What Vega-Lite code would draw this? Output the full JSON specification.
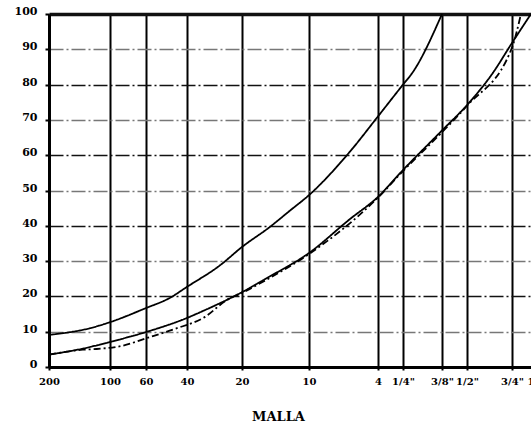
{
  "$schema": "https://vega.github.io/schema/vega-lite/v6.json",
  "width": 482,
  "height": 353,
  "autosize": {"type": "none"},
  "padding": {"left": 49, "top": 14, "right": 0, "bottom": 59},
  "background": "white",
  "config": {
    "view": {"stroke": null},
    "axis": {"labelFont": "DejaVu Serif", "labelFontWeight": "bold", "labelColor": "black", "titleFont": "DejaVu Serif", "titleColor": "black"}
  },
  "data": {
    "values": [
      {"serie": "A", "abertura": 0.075, "pasa": 9.1},
      {"serie": "A", "abertura": 0.1196, "pasa": 11},
      {"serie": "A", "abertura": 0.15, "pasa": 12.7},
      {"serie": "A", "abertura": 0.25, "pasa": 16.7},
      {"serie": "A", "abertura": 0.341, "pasa": 19.6},
      {"serie": "A", "abertura": 0.425, "pasa": 22.7},
      {"serie": "A", "abertura": 0.644, "pasa": 28.8},
      {"serie": "A", "abertura": 0.85, "pasa": 34},
      {"serie": "A", "abertura": 1.215, "pasa": 39.7},
      {"serie": "A", "abertura": 1.568, "pasa": 44.3},
      {"serie": "A", "abertura": 2.0, "pasa": 48.7},
      {"serie": "A", "abertura": 3.34, "pasa": 61},
      {"serie": "A", "abertura": 4.75, "pasa": 71},
      {"serie": "A", "abertura": 6.35, "pasa": 80},
      {"serie": "A", "abertura": 6.97, "pasa": 83.2},
      {"serie": "A", "abertura": 9.5, "pasa": 100},
      {"serie": "B", "abertura": 0.075, "pasa": 3.5},
      {"serie": "B", "abertura": 0.085, "pasa": 4},
      {"serie": "B", "abertura": 0.11, "pasa": 5.2},
      {"serie": "B", "abertura": 0.15, "pasa": 7.1},
      {"serie": "B", "abertura": 0.25, "pasa": 9.9},
      {"serie": "B", "abertura": 0.425, "pasa": 13.9},
      {"serie": "B", "abertura": 0.501, "pasa": 15.5},
      {"serie": "B", "abertura": 0.85, "pasa": 21.2},
      {"serie": "B", "abertura": 1.17, "pasa": 25.2},
      {"serie": "B", "abertura": 2.0, "pasa": 32.3},
      {"serie": "B", "abertura": 3.34, "pasa": 41.9},
      {"serie": "B", "abertura": 4.75, "pasa": 48.2},
      {"serie": "B", "abertura": 6.35, "pasa": 55.8},
      {"serie": "B", "abertura": 9.5, "pasa": 67},
      {"serie": "B", "abertura": 12.7, "pasa": 74.2},
      {"serie": "B", "abertura": 15.9, "pasa": 83},
      {"serie": "B", "abertura": 19.0, "pasa": 91.8},
      {"serie": "B", "abertura": 24.7, "pasa": 100},
      {"serie": "C", "abertura": 0.075, "pasa": 3.5},
      {"serie": "C", "abertura": 0.11, "pasa": 4.9},
      {"serie": "C", "abertura": 0.129, "pasa": 5.1},
      {"serie": "C", "abertura": 0.178, "pasa": 6},
      {"serie": "C", "abertura": 0.253, "pasa": 8.2},
      {"serie": "C", "abertura": 0.364, "pasa": 10.8},
      {"serie": "C", "abertura": 0.533, "pasa": 14.2},
      {"serie": "C", "abertura": 0.703, "pasa": 19},
      {"serie": "C", "abertura": 0.85, "pasa": 21},
      {"serie": "C", "abertura": 1.17, "pasa": 24.8},
      {"serie": "C", "abertura": 2.0, "pasa": 32},
      {"serie": "C", "abertura": 4.75, "pasa": 48},
      {"serie": "C", "abertura": 6.35, "pasa": 55.5},
      {"serie": "C", "abertura": 9.5, "pasa": 66.5},
      {"serie": "C", "abertura": 12.7, "pasa": 74},
      {"serie": "C", "abertura": 19.0, "pasa": 90.5},
      {"serie": "C", "abertura": 21.5, "pasa": 100}
    ]
  },
  "mark": {"type": "line", "color": "black", "strokeWidth": 1.8, "interpolate": "monotone", "clip": false},
  "encoding": {
    "x": {
      "field": "abertura",
      "type": "quantitative",
      "scale": {
        "type": "log",
        "nice": false,
        "zero": false,
        "domain": [0.075, 0.15, 0.25, 0.425, 0.85, 2.0, 4.75, 6.35, 9.5, 12.7, 19.0, 25.4],
        "range": [0, 61, 97, 138, 193, 260, 329, 354, 393, 418, 463, 484]
      },
      "axis": {
        "values": [0.075, 0.15, 0.25, 0.425, 0.85, 2.0, 4.75, 6.35, 9.5, 12.7, 19.0, 25.4],
        "labelExpr": "{'0.075':'200','0.15':'100','0.25':'60','0.425':'40','0.85':'20','2':'10','4.75':'4','6.35':'1/4\"','9.5':'3/8\"','12.7':'1/2\"','19':'3/4\"','25.4':'1\"'}[datum.value + '']",
        "labelFontSize": 10,
        "labelPadding": 6,
        "labelOverlap": false,
        "labelFlush": false,
        "tickSize": 3,
        "tickWidth": 2,
        "tickColor": "black",
        "domainColor": "black",
        "domainWidth": 3,
        "grid": true,
        "gridColor": "black",
        "gridWidth": 2,
        "gridOpacity": 1,
        "title": "MALLA",
        "titleFontSize": 13,
        "titleFontWeight": "bold",
        "titleX": 229,
        "titleY": 56,
        "titleAlign": "center",
        "titleBaseline": "bottom"
      }
    },
    "y": {
      "field": "pasa",
      "type": "quantitative",
      "scale": {"domain": [0, 100], "nice": false, "zero": true},
      "axis": {
        "values": [0, 10, 20, 30, 40, 50, 60, 70, 80, 90, 100],
        "labelFontSize": 11,
        "labelPadding": 8,
        "labelOffset": -2.5,
        "tickSize": 4,
        "tickWidth": 2,
        "tickColor": "black",
        "domainColor": "black",
        "domainWidth": 3,
        "grid": true,
        "gridOpacity": 1,
        "gridColor": {"condition": {"test": "datum.value % 20 === 10", "value": "#777777"}, "value": "#111111"},
        "gridWidth": {"condition": {"test": "datum.value === 100", "value": 3.5}, "value": 1.3},
        "gridDash": {"condition": {"test": "datum.value === 100 || datum.value === 0", "value": []}, "value": [14, 3, 2, 3]},
        "title": null
      }
    },
    "detail": {"field": "serie", "type": "nominal"},
    "strokeDash": {
      "field": "serie",
      "type": "nominal",
      "scale": {"domain": ["A", "B", "C"], "range": [[1, 0], [1, 0], [7, 3, 2, 3]]},
      "legend": null
    }
  }
}
